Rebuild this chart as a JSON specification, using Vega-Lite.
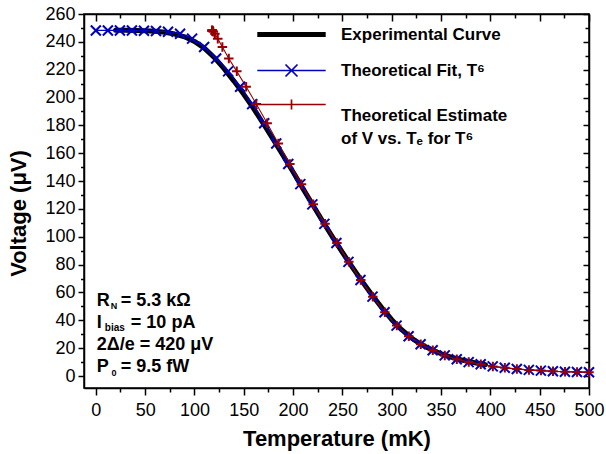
{
  "$schema": "https://vega.github.io/schema/vega-lite/v6.json",
  "width": 505,
  "height": 374,
  "autosize": "none",
  "padding": {"left": 84, "top": 14, "right": 17, "bottom": 66},
  "background": "white",
  "config": {"view": {"stroke": "black", "strokeWidth": 1.5}, "font": "Liberation Sans"},
  "datasets": {
    "exp": [
      {"T": 20, "V": 248.3}, {"T": 30, "V": 248.3}, {"T": 40, "V": 248.2}, {"T": 50, "V": 248.0},
      {"T": 60, "V": 247.6}, {"T": 70, "V": 246.9}, {"T": 80, "V": 245.6}, {"T": 90, "V": 243.6},
      {"T": 100, "V": 240.3}, {"T": 110, "V": 235.5}, {"T": 120, "V": 228.8}, {"T": 130, "V": 220.8},
      {"T": 140, "V": 211.8}, {"T": 150, "V": 202.3}, {"T": 160, "V": 192.0}, {"T": 170, "V": 181.0},
      {"T": 180, "V": 169.8}, {"T": 190, "V": 158.2}, {"T": 200, "V": 146.5}, {"T": 210, "V": 134.6},
      {"T": 220, "V": 122.8}, {"T": 230, "V": 111.2}, {"T": 240, "V": 99.8}, {"T": 250, "V": 88.8},
      {"T": 260, "V": 78.2}, {"T": 270, "V": 68.0}, {"T": 280, "V": 58.2}, {"T": 290, "V": 49.0},
      {"T": 300, "V": 40.5}, {"T": 310, "V": 33.3}, {"T": 320, "V": 27.3}, {"T": 330, "V": 22.6},
      {"T": 340, "V": 19.0}, {"T": 350, "V": 16.0}, {"T": 360, "V": 13.6}, {"T": 370, "V": 11.7},
      {"T": 380, "V": 10.1}, {"T": 390, "V": 8.8}, {"T": 395, "V": 8.2}
    ],
    "fit": [
      {"T": 0, "V": 248.2}, {"T": 12.2, "V": 248.2}, {"T": 24.4, "V": 248.2}, {"T": 36.6, "V": 248.1},
      {"T": 48.8, "V": 248.0}, {"T": 61.0, "V": 247.8}, {"T": 73.2, "V": 247.3}, {"T": 85.4, "V": 245.8},
      {"T": 97.6, "V": 242.3}, {"T": 109.8, "V": 236.3}, {"T": 122.0, "V": 228.0}, {"T": 134.1, "V": 218.8},
      {"T": 146.3, "V": 207.7}, {"T": 158.5, "V": 195.3}, {"T": 170.7, "V": 181.5}, {"T": 182.9, "V": 167.0},
      {"T": 195.1, "V": 152.3}, {"T": 207.3, "V": 137.8}, {"T": 219.5, "V": 123.3}, {"T": 231.7, "V": 109.3},
      {"T": 243.9, "V": 95.5}, {"T": 256.1, "V": 82.0}, {"T": 268.3, "V": 69.0}, {"T": 280.5, "V": 57.0},
      {"T": 292.7, "V": 45.8}, {"T": 304.9, "V": 36.2}, {"T": 317.1, "V": 28.6}, {"T": 329.3, "V": 22.8},
      {"T": 341.5, "V": 18.5}, {"T": 353.7, "V": 14.8}, {"T": 365.9, "V": 12.0}, {"T": 378.0, "V": 10.0},
      {"T": 390.2, "V": 8.4}, {"T": 402.4, "V": 6.9}, {"T": 414.6, "V": 5.9}, {"T": 426.8, "V": 5.0},
      {"T": 439.0, "V": 4.4}, {"T": 451.2, "V": 3.9}, {"T": 463.4, "V": 3.4}, {"T": 475.6, "V": 3.1},
      {"T": 487.8, "V": 2.9}, {"T": 500.0, "V": 2.7}
    ],
    "est": [
      {"T": 118.0, "V": 248.2}, {"T": 118.0, "V": 248.2}, {"T": 118.0, "V": 248.2}, {"T": 118.0, "V": 248.1},
      {"T": 118.1, "V": 248.0}, {"T": 118.4, "V": 247.8}, {"T": 119.1, "V": 247.3}, {"T": 120.7, "V": 245.8},
      {"T": 123.6, "V": 242.3}, {"T": 128.3, "V": 236.3}, {"T": 134.8, "V": 228.0}, {"T": 142.9, "V": 218.8},
      {"T": 152.4, "V": 207.7}, {"T": 162.7, "V": 195.3}, {"T": 173.7, "V": 181.5}, {"T": 185.0, "V": 167.0},
      {"T": 196.7, "V": 152.3}, {"T": 208.5, "V": 137.8}, {"T": 220.4, "V": 123.3}, {"T": 232.4, "V": 109.3},
      {"T": 244.4, "V": 95.5}, {"T": 256.5, "V": 82.0}, {"T": 268.6, "V": 69.0}, {"T": 280.8, "V": 57.0},
      {"T": 293.0, "V": 45.8}, {"T": 305.1, "V": 36.2}, {"T": 317.3, "V": 28.6}, {"T": 329.4, "V": 22.8},
      {"T": 341.6, "V": 18.5}, {"T": 353.8, "V": 14.8}, {"T": 366.0, "V": 12.0}, {"T": 378.1, "V": 10.0},
      {"T": 390.3, "V": 8.4}, {"T": 402.5, "V": 6.9}, {"T": 414.7, "V": 5.9}, {"T": 426.9, "V": 5.0},
      {"T": 439.1, "V": 4.4}, {"T": 451.3, "V": 3.9}, {"T": 463.5, "V": 3.4}, {"T": 475.7, "V": 3.1},
      {"T": 487.9, "V": 2.9}, {"T": 500.0, "V": 2.7}
    ],
    "one": [{}]
  },
  "layer": [
    {
      "data": {"name": "exp"},
      "mark": {"type": "line", "strokeWidth": 5, "strokeCap": "round", "strokeJoin": "round"},
      "encoding": {
        "x": {
          "field": "T", "type": "quantitative",
          "scale": {"domain": [-12, 500], "nice": false, "zero": false},
          "axis": {
            "orient": "bottom",
            "values": [0, 25, 50, 75, 100, 125, 150, 175, 200, 225, 250, 275, 300, 325, 350, 375, 400, 425, 450, 475, 500],
            "labelExpr": "datum.value % 50 === 0 ? datum.label : ''",
            "tickSize": {"condition": {"test": "datum.value % 50 === 0", "value": 7}, "value": 4},
            "tickColor": "black", "tickWidth": 1.5,
            "domainColor": "black", "domainWidth": 1.5,
            "grid": false,
            "labelFont": "Liberation Sans", "labelFontSize": 18, "labelColor": "black",
            "labelPadding": 6, "labelFlush": false, "labelOverlap": false,
            "title": "Temperature (mK)",
            "titleFont": "Liberation Sans", "titleFontSize": 22, "titleFontWeight": "bold", "titleColor": "black",
            "titleY": 57, "titleBaseline": "alphabetic"
          }
        },
        "y": {
          "field": "V", "type": "quantitative",
          "scale": {"domain": [-8.6, 260], "nice": false, "zero": false},
          "axis": {
            "orient": "left",
            "values": [0, 10, 20, 30, 40, 50, 60, 70, 80, 90, 100, 110, 120, 130, 140, 150, 160, 170, 180, 190, 200, 210, 220, 230, 240, 250, 260],
            "labelExpr": "datum.value % 20 === 0 ? datum.label : ''",
            "tickSize": {"condition": {"test": "datum.value % 20 === 0", "value": 6}, "value": 3.5},
            "tickColor": "black", "tickWidth": 1.5,
            "domainColor": "black", "domainWidth": 1.5,
            "grid": false,
            "labelFont": "Liberation Sans", "labelFontSize": 18, "labelColor": "black",
            "labelPadding": 3, "labelFlush": false, "labelOverlap": false,
            "title": "Voltage (μV)",
            "titleFont": "Liberation Sans", "titleFontSize": 22, "titleFontWeight": "bold", "titleColor": "black",
            "titleX": -59, "titleY": 199, "titleBaseline": "alphabetic"
          }
        },
        "color": {
          "datum": "Experimental Curve", "type": "nominal",
          "scale": {
            "domain": ["Experimental Curve", "Theoretical Fit, T⁶", "Theoretical Estimate of V vs. Tₑ for T⁶"],
            "range": ["#000000", "#0000bf", "#990000"]
          },
          "legend": {
            "orient": "none", "legendX": 199, "legendY": 12,
            "title": null, "padding": 0,
            "labelFont": "Liberation Sans", "labelFontSize": 17, "labelFontWeight": "bold", "labelColor": "black",
            "labelLimit": 0, "symbolSize": 144, "labelOffset": 41, "rowPadding": 16,
            "labelExpr": "datum.value === 'Theoretical Estimate of V vs. Tₑ for T⁶' ? ['Theoretical Estimate', 'of V vs. Tₑ for T⁶'] : datum.label",
            "encode": {
              "symbols": {
                "update": {
                  "shape": {"signal": "datum.value === 'Experimental Curve' ? 'M-5.7,0H5.7' : (datum.value === 'Theoretical Fit, T⁶' ? 'M-5.7,0H5.7M-1,-1L1,1M-1,1L1,-1' : 'M-5.7,0H5.7M-0.85,0H0.85M0,-0.85V0.85')"},
                  "strokeWidth": {"signal": "datum.value === 'Experimental Curve' ? 5 : 1.7"},
                  "fill": {"value": "transparent"}
                }
              },
              "labels": {
                "update": {
                  "lineHeight": {"value": 23},
                  "dy": {"signal": "datum.value === 'Theoretical Estimate of V vs. Tₑ for T⁶' ? 11.5 : 0"}
                }
              }
            }
          }
        }
      }
    },
    {
      "data": {"name": "fit"},
      "mark": {"type": "line", "strokeWidth": 1.3},
      "encoding": {
        "x": {
          "field": "T", "type": "quantitative",
          "axis": {
            "orient": "top",
            "values": [0, 25, 50, 75, 100, 125, 150, 175, 200, 225, 250, 275, 300, 325, 350, 375, 400, 425, 450, 475, 500],
            "labels": false, "grid": false, "title": null,
            "tickSize": {"condition": {"test": "datum.value % 50 === 0", "value": -7}, "value": -4},
            "tickColor": "black", "tickWidth": 1.5,
            "domainColor": "black", "domainWidth": 1.5
          }
        },
        "y": {
          "field": "V", "type": "quantitative",
          "axis": {
            "orient": "right",
            "values": [0, 10, 20, 30, 40, 50, 60, 70, 80, 90, 100, 110, 120, 130, 140, 150, 160, 170, 180, 190, 200, 210, 220, 230, 240, 250, 260],
            "labels": false, "grid": false, "title": null,
            "tickSize": {"condition": {"test": "datum.value % 20 === 0", "value": -6}, "value": -4},
            "tickColor": "black", "tickWidth": 1.5,
            "domainColor": "black", "domainWidth": 1.5
          }
        },
        "color": {"datum": "Theoretical Fit, T⁶", "type": "nominal"}
      }
    },
    {
      "data": {"name": "est"},
      "mark": {"type": "line", "strokeWidth": 1.1},
      "encoding": {
        "x": {"field": "T", "type": "quantitative", "axis": null},
        "y": {"field": "V", "type": "quantitative", "axis": null},
        "color": {"datum": "Theoretical Estimate of V vs. Tₑ for T⁶", "type": "nominal"}
      }
    },
    {
      "data": {"name": "fit"},
      "mark": {"type": "point", "shape": "M-1,-1L1,1M-1,1L1,-1", "size": 100, "strokeWidth": 2, "filled": false, "opacity": 1, "color": "#0000bf"},
      "encoding": {
        "x": {"field": "T", "type": "quantitative", "axis": null},
        "y": {"field": "V", "type": "quantitative", "axis": null}
      }
    },
    {
      "data": {"name": "est"},
      "mark": {"type": "point", "shape": "M-1,0H1M0,-1V1", "size": 90, "strokeWidth": 2, "filled": false, "opacity": 1, "color": "#990000"},
      "encoding": {
        "x": {"field": "T", "type": "quantitative", "axis": null},
        "y": {"field": "V", "type": "quantitative", "axis": null}
      }
    },
    {
      "data": {"name": "one"},
      "mark": {"type": "text", "align": "left", "baseline": "alphabetic", "font": "Liberation Sans", "fontSize": 18, "fontWeight": "bold", "lineHeight": 22, "color": "black"},
      "encoding": {
        "x": {"datum": 1, "type": "quantitative", "axis": null},
        "y": {"datum": 50.3, "type": "quantitative", "axis": null},
        "text": {"value": ["R", "I", "2Δ/e = 420 μV", "P"]}
      }
    },
    {
      "data": {"name": "one"},
      "mark": {"type": "text", "align": "left", "baseline": "alphabetic", "font": "Liberation Sans", "fontSize": 18, "fontWeight": "bold", "color": "black"},
      "encoding": {
        "x": {"datum": 25.3, "type": "quantitative", "axis": null},
        "y": {"datum": 50.3, "type": "quantitative", "axis": null},
        "text": {"value": "= 5.3 kΩ"}
      }
    },
    {
      "data": {"name": "one"},
      "mark": {"type": "text", "align": "left", "baseline": "alphabetic", "font": "Liberation Sans", "fontSize": 18, "fontWeight": "bold", "color": "black"},
      "encoding": {
        "x": {"datum": 35.5, "type": "quantitative", "axis": null},
        "y": {"datum": 34.5, "type": "quantitative", "axis": null},
        "text": {"value": "= 10 pA"}
      }
    },
    {
      "data": {"name": "one"},
      "mark": {"type": "text", "align": "left", "baseline": "alphabetic", "font": "Liberation Sans", "fontSize": 18, "fontWeight": "bold", "color": "black"},
      "encoding": {
        "x": {"datum": 25.3, "type": "quantitative", "axis": null},
        "y": {"datum": 2.9, "type": "quantitative", "axis": null},
        "text": {"value": "= 9.5 fW"}
      }
    },
    {
      "data": {"name": "one"},
      "mark": {"type": "text", "align": "left", "baseline": "alphabetic", "font": "Liberation Sans", "fontSize": 9, "fontWeight": "bold", "color": "black"},
      "encoding": {
        "x": {"datum": 15.2, "type": "quantitative", "axis": null},
        "y": {"datum": 48.1, "type": "quantitative", "axis": null},
        "text": {"value": "N"}
      }
    },
    {
      "data": {"name": "one"},
      "mark": {"type": "text", "align": "left", "baseline": "alphabetic", "font": "Liberation Sans", "fontSize": 10, "fontWeight": "bold", "color": "black"},
      "encoding": {
        "x": {"datum": 9.1, "type": "quantitative", "axis": null},
        "y": {"datum": 32.3, "type": "quantitative", "axis": null},
        "text": {"value": "bias"}
      }
    },
    {
      "data": {"name": "one"},
      "mark": {"type": "text", "align": "left", "baseline": "alphabetic", "font": "Liberation Sans", "fontSize": 9, "fontWeight": "bold", "color": "black"},
      "encoding": {
        "x": {"datum": 16.0, "type": "quantitative", "axis": null},
        "y": {"datum": 0.0, "type": "quantitative", "axis": null},
        "text": {"value": "0"}
      }
    }
  ],
  "resolve": {"axis": {"x": "independent", "y": "independent"}}
}
